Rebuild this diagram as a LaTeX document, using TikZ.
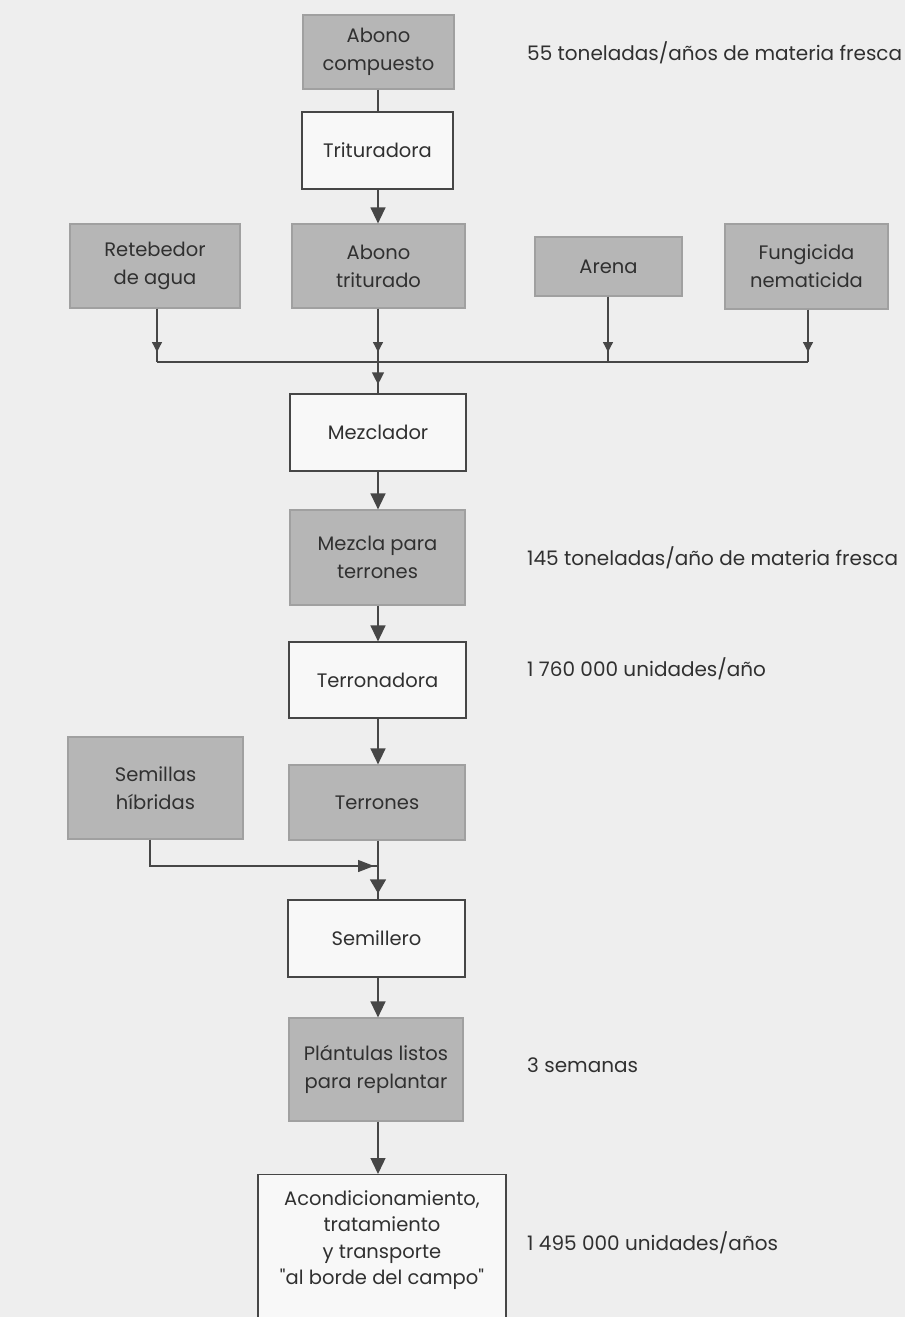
\documentclass[tikz,border=0pt]{standalone}
\usepackage{fontspec}
\setmainfont{Poppins}
\newfontface\qfont{Poppins}[Ligatures=TeXOff]
\usetikzlibrary{arrows.meta,calc}
\definecolor{bg}{RGB}{238,238,238}
\definecolor{boxgray}{RGB}{182,182,182}
\definecolor{boxwhite}{RGB}{248,248,248}
\definecolor{ink}{RGB}{48,48,48}
\definecolor{linec}{RGB}{70,70,70}
\tikzset{
  base/.style={draw=linec, line width=1.2pt, text=ink, align=center, inner sep=0pt, font=\fontsize{19.5}{28}\selectfont},
  graybox/.style={base, fill=boxgray, draw=boxgray!88!black},
  whitebox/.style={base, fill=boxwhite},
  conn/.style={draw=linec, line width=1.3pt},
  bigarr/.style={conn, -{Triangle[width=15pt,length=16pt]}},
  midarr/.style={conn, -{Triangle[width=12pt,length=12pt]}},
  smallarr/.style={conn, -{Triangle[width=10pt,length=10pt]}},
  sidelabel/.style={text=ink, anchor=base west, inner sep=0pt, font=\fontsize{20}{24}\selectfont}
}
\begin{document}
\begin{tikzpicture}[x=1pt,y=-1pt]
\useasboundingbox (0,0) rectangle (905,1317);
\fill[bg] (0,0) rectangle (905,1317);

\node[graybox, minimum width=151pt, minimum height=74pt] (ac) at (378.5,52) {Abono\\compuesto};
\node[whitebox, line width=2pt, minimum width=151pt, minimum height=77pt] (tri) at (377.5,150.5) {Trituradora};
\node[graybox, minimum width=170pt, minimum height=84pt] (ret) at (155,266) {Retebedor\\de agua};
\node[graybox, minimum width=173pt, minimum height=84pt] (at) at (378.5,266) {Abono\\triturado};
\node[graybox, minimum width=147pt, minimum height=59pt] (are) at (608.5,266.5) {Arena};
\node[graybox, minimum width=163pt, minimum height=85pt] (fun) at (806.5,266.5) {Fungicida\\nematicida};
\node[whitebox, minimum width=176pt, minimum height=77pt] (mez) at (378,432.5) {Mezclador};
\node[graybox, minimum width=175pt, minimum height=95pt] (mpt) at (377.5,557.5) {Mezcla para\\terrones};
\node[whitebox, minimum width=177pt, minimum height=76pt] (ter) at (377.5,680) {Terronadora};
\node[graybox, minimum width=175pt, minimum height=102pt] (sh) at (155.5,788) {Semillas\\híbridas};
\node[graybox, minimum width=176pt, minimum height=75pt] (trr) at (377,802.5) {Terrones};
\node[whitebox, minimum width=177pt, minimum height=77pt] (sem) at (376.5,938.5) {Semillero};
\node[graybox, minimum width=174pt, minimum height=103pt] (pla) at (376,1069.5) {Plántulas listos\\para replantar};
\node[whitebox, minimum width=248pt, minimum height=160pt, anchor=north] (acd) at (382,1174) {};
\node[text=ink, align=center, inner sep=0pt, font=\fontsize{19.5}{26.5}\selectfont] (acdt) at (382,1240) {Acondicionamiento,\\tratamiento\\y transporte\\{\qfont"}al borde del campo{\qfont"}};

% side labels
\node[sidelabel] (l1) at (527,60) {55 toneladas/años de materia fresca};
\node[sidelabel] (l2) at (527,565) {145 toneladas/año de materia fresca};
\node[sidelabel] (l3) at (527,676) {1 760 000 unidades/año};
\node[sidelabel] (l4) at (527,1072) {3 semanas};
\node[sidelabel] (l5) at (527,1250) {1 495 000 unidades/años};

% connectors
\coordinate (jret) at (157,362);
\coordinate (jat) at (378,362);
\coordinate (jare) at (608,362);
\coordinate (jfun) at (808,362);
\coordinate (jsh) at (150,866);
\coordinate (jtrr) at (378,866);

\draw[conn] (ac.south -| jat) -- (tri.north -| jat);
\draw[bigarr] (tri.south -| jat) -- (at.north -| jat);

\draw[conn] (ret.south -| jret) -- (jret);
\draw[smallarr, shorten >=10pt] (ret.south -| jret) -- (jret);
\draw[conn] (at.south -| jat) -- (jat);
\draw[smallarr, shorten >=10pt] (at.south -| jat) -- (jat);
\draw[conn] (are.south -| jare) -- (jare);
\draw[smallarr, shorten >=10pt] (are.south -| jare) -- (jare);
\draw[conn] (fun.south -| jfun) -- (jfun);
\draw[smallarr, shorten >=10pt] (fun.south -| jfun) -- (jfun);
\draw[conn] (jret) -- (jfun);
\draw[conn] (jat) -- (mez.north -| jat);
\draw[midarr, shorten >=9pt] (jat) -- (mez.north -| jat);

\draw[bigarr] (mez.south -| jat) -- (mpt.north -| jat);
\draw[bigarr] (mpt.south -| jat) -- (ter.north -| jat);
\draw[bigarr] (ter.south -| jat) -- (trr.north -| jat);

\draw[conn] (sh.south -| jsh) -- (jsh) -- (jtrr);
\draw[conn, -{Triangle[width=12pt,length=16pt]}, shorten >=4pt] (jsh) -- (jtrr);
\draw[conn] (trr.south -| jtrr) -- (sem.north -| jtrr);
\draw[conn, -{Triangle[width=16pt,length=14pt]}, shorten >=6pt] (jtrr) -- (sem.north -| jtrr);

\draw[bigarr] (sem.south -| jat) -- (pla.north -| jat);
\draw[bigarr] (pla.south -| jat) -- (acd.north -| jat);
\end{tikzpicture}
\end{document}
